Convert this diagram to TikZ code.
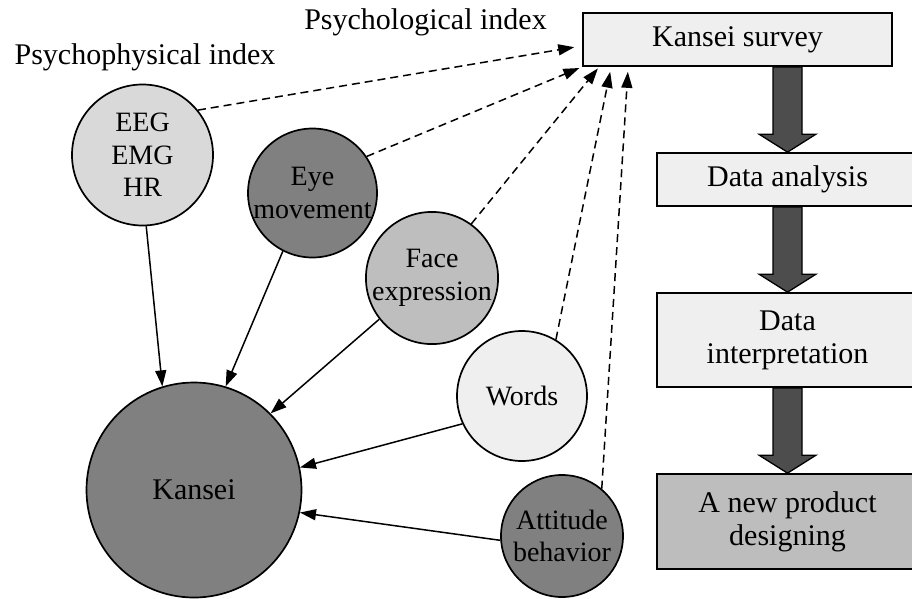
\documentclass[tikz,border=0pt]{standalone}
\usepackage{fontspec}
\setmainfont{Liberation Serif}
\usetikzlibrary{arrows.meta,calc}

\definecolor{paper}{HTML}{EFEFEF}
\definecolor{lightgrey}{HTML}{D9D9D9}
\definecolor{midgrey}{HTML}{BEBEBE}
\definecolor{darkgrey}{HTML}{808080}
\definecolor{boxgrey}{HTML}{BDBDBD}
\definecolor{arrowgrey}{HTML}{4D4D4D}

\tikzset{
  smalltext/.style={font=\fontsize{28}{32.5}\selectfont},
  bigtext/.style={font=\fontsize{30}{33}\selectfont},
  ball/.style={circle, draw, line width=1.7pt, inner sep=0pt, align=center,
               smalltext, minimum size=#1},
  stagebox/.style={rectangle, draw, line width=1.7pt, inner sep=0pt,
                   align=center, bigtext, fill=paper},
  feeds/.style={-{Triangle[length=16pt,width=11pt]}, line width=1.5pt},
  reports/.style={-{Triangle[length=16pt,width=11pt]}, line width=1.5pt,
                  dash pattern=on 8pt off 5pt},
  bigarrow/.style={fill=arrowgrey, draw, line width=1.3pt, line join=miter},
}

% thick block arrow between two stacked boxes
\newcommand\blockarrow[2]{%
  \draw[bigarrow] let \p1=(#1.south), \p2=(#2.north) in
    (773pt,\y1) -- (773pt,\y2+18pt) -- (759pt,\y2+18pt) -- (787.5pt,\y2)
    -- (816pt,\y2+18pt) -- (802pt,\y2+18pt) -- (802pt,\y1) -- cycle;}

\begin{document}
\begin{tikzpicture}[x=1pt,y=-1pt]
\useasboundingbox (0,0) rectangle (912,598);
\clip (0,0) rectangle (912,598);

% group labels
\node[bigtext] (physlabel) at (145,57) {Psychophysical index};
\node[bigtext] (psylabel) at (425.5,22) {Psychological index};

% measurement circles
\node[ball=141pt, fill=lightgrey] (eeg) at (142.5,155) {EEG\\EMG\\HR};
\node[ball=129pt, fill=darkgrey] (eye) at (312.5,193) {Eye\\movement};
\node[ball=129pt, fill=midgrey] (face) at (432,278) {Face\\expression};
\node[ball=130pt, fill=paper] (words) at (522,396) {Words};
\node[ball=122pt, fill=darkgrey] (attitude) at (562,536) {Attitude\\behavior};
\node[ball=215pt, fill=darkgrey, bigtext] (kansei) at (194,490) {Kansei};

% process boxes
\node[stagebox, minimum width=309pt, minimum height=53pt] (survey) at (737.5,39.5) {Kansei survey};
\node[stagebox, minimum width=261pt, minimum height=53pt] (analysis) at (787.5,179.5) {Data analysis};
\node[stagebox, minimum width=261pt, minimum height=94pt] (interp) at (787.5,340) {Data\\interpretation};
\node[stagebox, minimum width=261pt, minimum height=95pt, fill=boxgrey] (product) at (787.5,521.5) {A new product\\designing};

% block arrows
\blockarrow{survey}{analysis}
\blockarrow{analysis}{interp}
\blockarrow{interp}{product}

% indices feeding Kansei
\draw[feeds] (eeg.-87) -- (kansei.107.5);
\draw[feeds] (eye.-117) -- (kansei.73);
\draw[feeds] (face.-142) -- (kansei.45);
\draw[feeds] (words.-155) -- (kansei.12);
\draw[feeds] (attitude.-176) -- (kansei.-12);

% indices reported to the survey
\draw[reports, shorten >=8pt] (eeg.39) -- ([yshift=21pt]survey.south west);
\draw[reports, shorten >=3pt] (eye.34) -- (survey.south west);
\draw[reports, shorten >=2pt] (face.54) -- ([xshift=17pt]survey.south west);
\draw[reports, shorten >=5pt] (words.59) -- ([xshift=29pt]survey.south west);
\draw[reports, shorten >=5pt] (attitude.50) -- ([xshift=46pt]survey.south west);
\end{tikzpicture}
\end{document}
